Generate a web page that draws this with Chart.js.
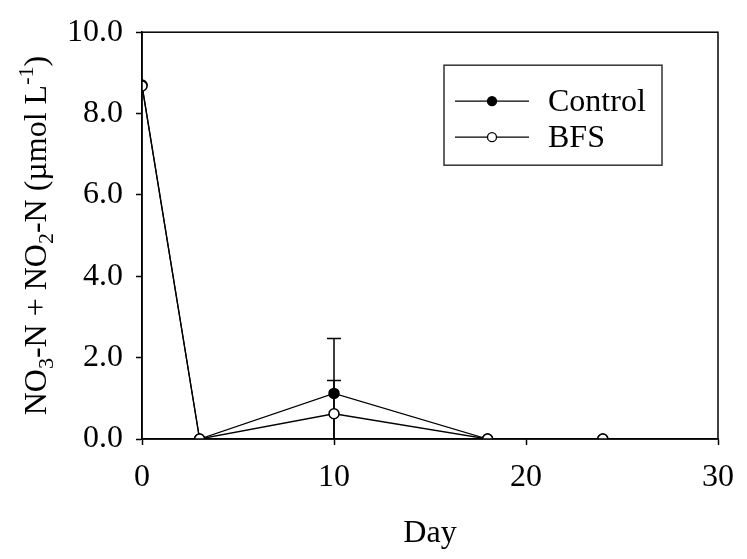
<!DOCTYPE html>
<html>
<head>
<meta charset="utf-8">
<script src="https://cdn.jsdelivr.net/npm/chart.js@4"></script>
<style>
body{margin:0;background:#fff;}
canvas{display:block;}
</style>
</head>
<body>
<canvas id="grafico" width="747" height="559"></canvas>
<script>

const dias = [0, 3, 10, 18, 24];

const controle = [8.70, 0, 1.12, 0, 0];
const bfs = [8.68, 0, 0.62, 0, 0];

// desvio padrão (só o dia 10 tem barra visível)
const erroControle = [0, 0, 1.35, 0, 0];
const erroBfs = [0, 0, 0.82, 0, 0];

const ticksX = [0, 10, 20, 30];
const ticksY = [0, 2, 4, 6, 8, 10];

const nomes = ["Control", "BFS"];

const fonte = "Liberation Serif, Times New Roman, serif";



function pontos(valores){
  return dias.map((d,i)=>({x:d,y:valores[i]}));
}



// barras de erro, desenhadas antes dos pontos para ficarem por baixo
const barrasErro = {
  id:"barrasErro",
  beforeDatasetsDraw(chart){
    const c = chart.ctx;
    const x = chart.scales.x, y = chart.scales.y;
    const area = chart.chartArea;
    c.save();
    c.strokeStyle = "#000";
    c.lineWidth = 1.5;
    chart.data.datasets.forEach(ds=>{
      ds.erros.forEach((e,i)=>{
        if(!e) return;
        const v = ds.data[i].y;
        const px = x.getPixelForValue(ds.data[i].x);
        const topo = y.getPixelForValue(v+e);
        const base = Math.min(y.getPixelForValue(Math.max(0,v-e)), area.bottom);
        c.beginPath();
        c.moveTo(px,base);
        c.lineTo(px,topo);
        c.moveTo(px-7,topo);
        c.lineTo(px+7,topo);
        c.stroke();
      });
    });
    c.restore();
  }
};



// moldura, títulos dos eixos e legenda
const extras = {
  id:"extras",
  afterDraw(chart){
    const c = chart.ctx;
    const a = chart.chartArea;

    c.save();
    c.strokeStyle = "#000";
    c.lineWidth = 1.5;
    c.strokeRect(a.left,a.top,a.right-a.left,a.bottom-a.top);

    c.fillStyle = "#000";
    c.font = "32px " + fonte;
    c.textAlign = "center";
    c.textBaseline = "middle";
    c.fillText("Day",(a.left+a.right)/2,534);

    // título do eixo y com índices
    const partes = [
      {t:"NO",s:0},{t:"3",s:1},{t:"-N + NO",s:0},{t:"2",s:1},
      {t:"-N (µmol L",s:0},{t:"-1",s:-1},{t:")",s:0}
    ];
    const medir = p=>{
      c.font = (p.s ? "22px " : "32px ") + fonte;
      return c.measureText(p.t).width;
    };
    const total = partes.reduce((s,p)=>s+medir(p),0);
    c.translate(46,(a.top+a.bottom)/2);
    c.rotate(-Math.PI/2);
    c.textAlign = "left";
    c.textBaseline = "alphabetic";
    let pos = -total/2;
    partes.forEach(p=>{
      const w = medir(p);
      const dy = p.s===1 ? 7 : (p.s===-1 ? -13 : 0);
      c.fillText(p.t,pos,dy);
      pos += w;
    });
    c.restore();

    // legenda
    const lx = a.right-274, ly = a.top+33;
    c.save();
    c.strokeStyle = "#333";
    c.lineWidth = 1.5;
    c.strokeRect(lx,ly,218,100);
    chart.data.datasets.forEach((ds,i)=>{
      const yy = ly + 36 + i*36;
      c.strokeStyle = "#000";
      c.lineWidth = 1.3;
      c.beginPath();
      c.moveTo(lx+11,yy);
      c.lineTo(lx+85,yy);
      c.stroke();
      c.beginPath();
      c.arc(lx+48,yy,4.5,0,Math.PI*2);
      c.fillStyle = ds.pointBackgroundColor;
      c.fill();
      c.stroke();
      c.fillStyle = "#000";
      c.font = "32px " + fonte;
      c.textAlign = "left";
      c.textBaseline = "middle";
      c.fillText(ds.label,lx+104,yy+1);
    });
    c.restore();
  }
};



const ctx = document.getElementById("grafico");

const grafico = new Chart(ctx,{

type:"line",

data:{
  datasets:[
    {
      label:nomes[0],
      data:pontos(controle),
      erros:erroControle,
      order:1,
      borderColor:"#000",
      borderWidth:1.3,
      pointBackgroundColor:"#000",
      pointBorderColor:"#000",
      pointBorderWidth:1.5,
      pointRadius:5,
      tension:0
    },
    {
      label:nomes[1],
      data:pontos(bfs),
      erros:erroBfs,
      order:0,
      borderColor:"#000",
      borderWidth:1.3,
      pointBackgroundColor:"#fff",
      pointBorderColor:"#000",
      pointBorderWidth:1.5,
      pointRadius:5,
      tension:0
    }
  ]
},

options:{
  responsive:false,
  animation:false,
  events:[],
  layout:{padding:{left:0,top:20,right:24,bottom:0}},
  plugins:{
    legend:{display:false},
    tooltip:{enabled:false}
  },
  scales:{
    x:{
      type:"linear",
      min:0,
      max:30,
      afterBuildTicks:s=>{ s.ticks = ticksX.map(v=>({value:v})); },
      afterFit:s=>{ s.height = 120; },
      grid:{drawOnChartArea:false,drawTicks:true,tickLength:6,tickColor:"#000",tickWidth:1.5},
      border:{color:"#000",width:1.5},
      ticks:{color:"#000",padding:13,maxRotation:0,font:{family:fonte,size:32}}
    },
    y:{
      min:0,
      max:10,
      afterBuildTicks:s=>{ s.ticks = ticksY.map(v=>({value:v})); },
      afterFit:s=>{ s.width = 142; },
      grid:{drawOnChartArea:false,drawTicks:true,tickLength:6,tickColor:"#000",tickWidth:1.5},
      border:{color:"#000",width:1.5},
      ticks:{color:"#000",padding:13,font:{family:fonte,size:32},callback:v=>v.toFixed(1)}
    }
  }
},

plugins:[barrasErro,extras]

});

</script>
</body>
</html>
